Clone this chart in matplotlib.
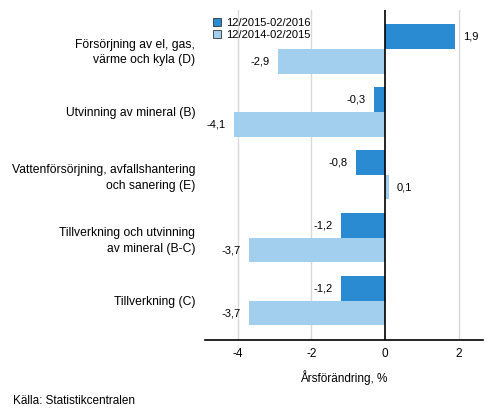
import matplotlib.pyplot as plt
import numpy as np

plt.rcParams["font.family"] = ["Liberation Sans", "DejaVu Sans"]

categories = [
    "Försörjning av el, gas,\nvärme och kyla (D)",
    "Utvinning av mineral (B)",
    "Vattenförsörjning, avfallshantering\noch sanering (E)",
    "Tillverkning och utvinning\nav mineral (B-C)",
    "Tillverkning (C)",
]
series_names = ["12/2015-02/2016", "12/2014-02/2015"]
vals_2016 = [1.9, -0.3, -0.8, -1.2, -1.2]
vals_2015 = [-2.9, -4.1, 0.1, -3.7, -3.7]
xticks = [-4, -2, 0, 2]

DARK = "#2a8bd3"
LIGHT = "#a3cfee"

fig = plt.figure(figsize=(4.93, 4.16), dpi=100)
ax = fig.add_axes([0.416, 0.183, 0.564, 0.793])

y = np.arange(len(categories))
h = 0.39
b1 = ax.barh(y - h / 2, vals_2016, height=h, color=DARK, label=series_names[0], zorder=2)
b2 = ax.barh(y + h / 2, vals_2015, height=h, color=LIGHT, label=series_names[1], zorder=2)

for bars, vals in ((b1, vals_2016), (b2, vals_2015)):
    for bar, v in zip(bars, vals):
        cy = bar.get_y() + bar.get_height() / 2
        txt = f"{v:.1f}".replace(".", ",")
        if v >= 0:
            ax.annotate(txt, (v, cy), xytext=(6, 0), textcoords="offset points",
                        ha="left", va="center", fontsize=8)
        else:
            ax.annotate(txt, (v, cy), xytext=(-6, 0), textcoords="offset points",
                        ha="right", va="center", fontsize=8)

ax.set_xlim(-4.88, 2.66)
ax.set_ylim(4.62, -0.62)
ax.set_xticks(xticks)
ax.set_xticklabels([str(t) for t in xticks], fontsize=8.5)
ax.set_yticks(y)
ax.set_yticklabels(categories, fontsize=8.7, multialignment="right", linespacing=1.4)
ax.tick_params(axis="both", length=0)
ax.tick_params(axis="y", pad=7)
ax.tick_params(axis="x", pad=6)

for t in xticks:
    if t != 0:
        ax.axvline(t, color="#d9d9d9", linewidth=1, zorder=0)
ax.axvline(0, color="black", linewidth=1.2, zorder=3)

for s in ["top", "right", "left"]:
    ax.spines[s].set_visible(False)
ax.spines["bottom"].set_linewidth(1.2)

ax.set_xlabel("Årsförändring, %", fontsize=8.5, labelpad=7)

leg = ax.legend(loc="upper left", bbox_to_anchor=(0.0, 1.0), frameon=False,
                fontsize=8, handlelength=0.7, handleheight=0.7,
                handletextpad=0.5, labelspacing=0.2, borderaxespad=0.3)
for p in leg.get_patches():
    p.set_edgecolor("#333333")
    p.set_linewidth(0.6)

fig.text(0.026, 0.028, "Källa: Statistikcentralen", fontsize=8.5)

fig.savefig("out.png", dpi=100)
